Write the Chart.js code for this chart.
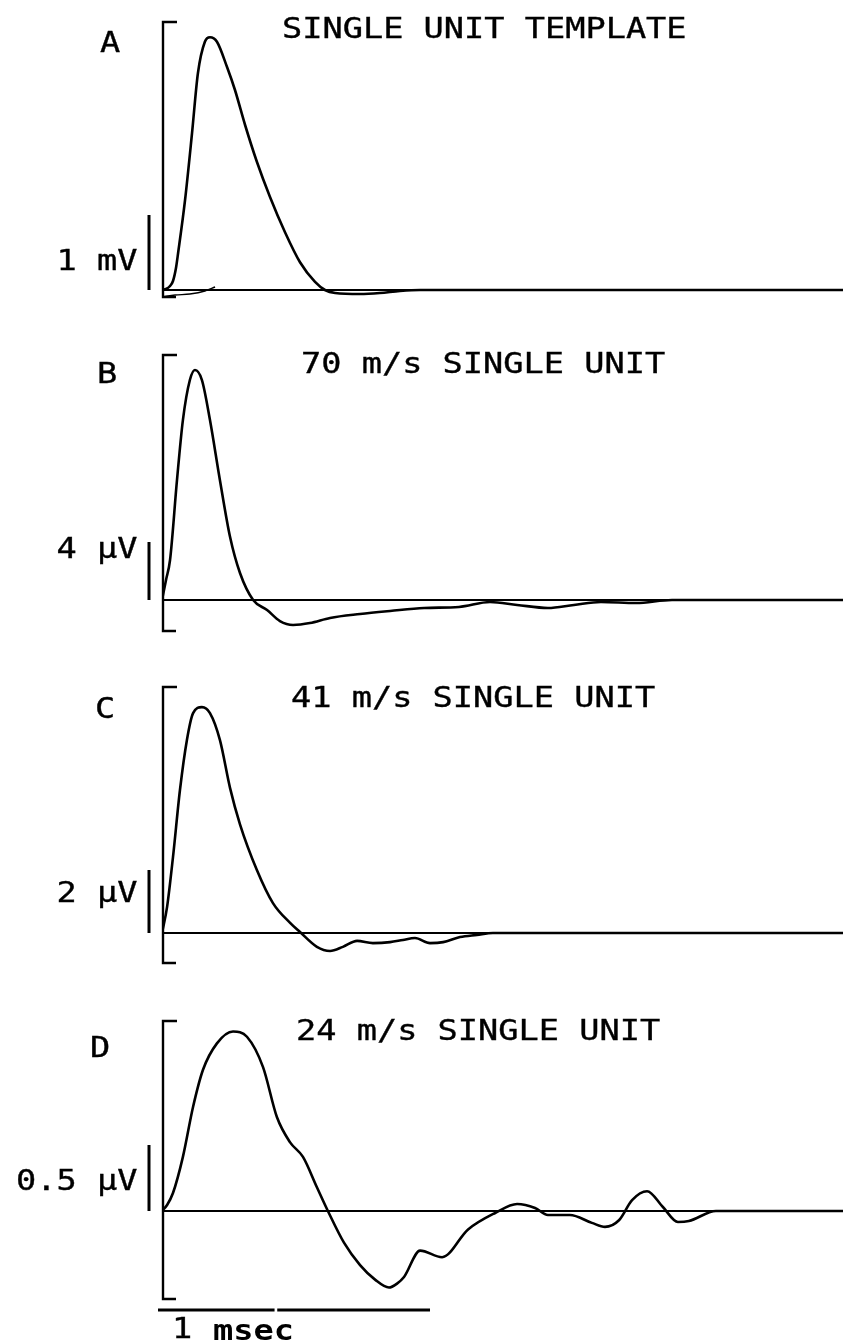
<!DOCTYPE html>
<html lang="en">
<head>
<meta charset="UTF-8">
<title>Single unit templates</title>
<script src="https://cdn.jsdelivr.net/npm/chart.js@4"></script>
<style>
  body { margin: 0; background: #fff; }
  #wrap { position: relative; width: 843px; height: 1343px; }
  #wrap canvas { position: absolute; left: 0; top: 0; }
</style>
</head>
<body>
<div id="wrap">
  <canvas id="pA" width="843" height="1343"></canvas>
  <canvas id="pB" width="843" height="1343"></canvas>
  <canvas id="pC" width="843" height="1343"></canvas>
  <canvas id="pD" width="843" height="1343"></canvas>
</div>
<script>
// time in msec, amplitude in the panel unit (A: mV, B-D: µV)
const tA = [0, 0.015, 0.03, 0.041, 0.052, 0.06, 0.086, 0.112, 0.134, 0.16, 0.179, 0.205, 0.243, 0.272, 0.31, 0.354, 0.403, 0.459, 0.515, 0.571, 0.608, 0.646, 0.739, 0.813, 0.888, 0.963, 2.541];
const vA = [0, 0.013, 0.053, 0.12, 0.29, 0.49, 1.2, 2.09, 2.89, 3.31, 3.37, 3.31, 2.97, 2.67, 2.2, 1.71, 1.24, 0.77, 0.37, 0.107, 0, -0.04, -0.053, -0.04, -0.013, 0, 0];
// faint second sweep at the start of A
const tA2 = [0, 0.049, 0.104, 0.16, 0.198];
const vA2 = [-0.093, -0.067, -0.053, -0.013, 0.04];

const tB = [0, 0.015, 0.03, 0.056, 0.078, 0.104, 0.123, 0.149, 0.179, 0.216, 0.254, 0.291, 0.34, 0.392, 0.44, 0.489, 0.552, 0.627, 0.739, 0.851, 0.978, 1.108, 1.224, 1.325, 1.44, 1.537, 1.638, 1.769, 1.903, 2.541];
const vB = [0, 1.38, 2.76, 8.28, 12.41, 15.17, 15.86, 15.17, 12.41, 8.28, 4.34, 1.86, 0, -0.69, -1.45, -1.72, -1.59, -1.24, -0.97, -0.76, -0.55, -0.48, -0.14, -0.34, -0.55, -0.34, -0.14, -0.21, 0, 0];

const tC = [0, 0.019, 0.041, 0.067, 0.093, 0.116, 0.149, 0.179, 0.216, 0.254, 0.291, 0.354, 0.414, 0.478, 0.515, 0.578, 0.627, 0.675, 0.728, 0.787, 0.851, 0.899, 0.944, 1.0, 1.049, 1.112, 1.175, 1.235, 2.541];
const vC = [0, 0.83, 2.41, 4.54, 6.13, 6.98, 7.17, 6.98, 6.13, 4.6, 3.45, 2.0, 0.95, 0.32, 0.03, -0.44, -0.57, -0.44, -0.25, -0.32, -0.29, -0.22, -0.16, -0.32, -0.29, -0.13, -0.06, 0, 0];

const tD = [0, 0.019, 0.041, 0.078, 0.116, 0.153, 0.205, 0.265, 0.317, 0.377, 0.429, 0.478, 0.526, 0.578, 0.619, 0.679, 0.739, 0.795, 0.847, 0.877, 0.903, 0.963, 1.045, 1.142, 1.243, 1.325, 1.392, 1.44, 1.522, 1.604, 1.653, 1.705, 1.754, 1.81, 1.869, 1.925, 1.966, 2.067, 2.541];
const vD = [0, 0.045, 0.136, 0.41, 0.79, 1.07, 1.27, 1.36, 1.32, 1.09, 0.71, 0.52, 0.41, 0.18, 0, -0.24, -0.41, -0.52, -0.58, -0.55, -0.5, -0.3, -0.35, -0.14, -0.015, 0.053, 0.023, -0.03, -0.03, -0.09, -0.12, -0.07, 0.083, 0.15, 0.03, -0.083, -0.076, 0, 0];

const panelLetters = ['A', 'B', 'C', 'D'];
const panelTitles = ['SINGLE UNIT TEMPLATE', '70 m/s SINGLE UNIT', '41 m/s SINGLE UNIT', '24 m/s SINGLE UNIT'];
const scaleValues = [1, 4, 2, 0.5];
const scaleLabels = ['1 mV', '4 µV', '2 µV', '0.5 µV'];
const timeBar = 1; // msec
const timeBarLabel = ['1', 'msec'];
const timeSpan = 2.541; // msec shown

// page layout, in pixels
const ink = '#000';
const left = 162;
const panels = [
  { id: 'pA', top: 10,   bottom: 310,  base: 290,  px: 75,   brTop: 22,   brBot: 297,  letter: [100, 52],  title: [282, 38],   label: 270 },
  { id: 'pB', top: 340,  bottom: 640,  base: 600,  px: 14.5, brTop: 355,  brBot: 631,  letter: [97, 383],  title: [301, 373],  label: 558 },
  { id: 'pC', top: 680,  bottom: 975,  base: 933,  px: 31.5, brTop: 687,  brBot: 963,  letter: [95, 718],  title: [291, 707],  label: 902 },
  { id: 'pD', top: 1010, bottom: 1320, base: 1211, px: 132,  brTop: 1021, brBot: 1299, letter: [90, 1057], title: [296, 1040], label: 1190 }
];

// plotter-like lettering: a mono font stretched sideways
const fontPx = 28, stretch = 1.2;
const advance = fontPx * 0.602 * stretch;

function plotText(ctx, str, x, y, bold) {
  ctx.save();
  ctx.font = (bold ? 'bold ' : '') + fontPx + 'px "DejaVu Sans Mono"';
  ctx.textBaseline = 'alphabetic';
  ctx.textAlign = 'left';
  ctx.scale(stretch, 1);
  ctx.fillText(str, x / stretch, y);
  if (!bold) {
    ctx.lineWidth = 0.35;
    ctx.strokeText(str, x / stretch, y);
  }
  ctx.restore();
}

const deco = {
  id: 'deco',
  afterDatasetsDraw(chart, args, o) {
    const ctx = chart.ctx, x = chart.scales.x, y = chart.scales.y;
    const P = panels[o.i];
    ctx.save();
    ctx.strokeStyle = ink;
    ctx.fillStyle = ink;

    // left bracket
    const bx = x.getPixelForValue(0) + 1;
    ctx.lineWidth = 2.4;
    ctx.beginPath();
    ctx.moveTo(bx + 14, P.brTop);
    ctx.lineTo(bx, P.brTop);
    ctx.lineTo(bx, P.brBot);
    ctx.lineTo(bx + 13, P.brBot);
    ctx.stroke();

    // amplitude calibration bar
    ctx.lineWidth = 3;
    ctx.beginPath();
    ctx.moveTo(149, y.getPixelForValue(0));
    ctx.lineTo(149, y.getPixelForValue(scaleValues[o.i]));
    ctx.stroke();

    plotText(ctx, panelLetters[o.i], P.letter[0], P.letter[1]);
    plotText(ctx, panelTitles[o.i], P.title[0], P.title[1]);
    const lab = scaleLabels[o.i];
    plotText(ctx, lab, 97 - (lab.length - 2) * advance, P.label);

    // time calibration bar under D
    if (o.i === 3) {
      const yb = 1310;
      ctx.lineWidth = 3;
      ctx.beginPath();
      ctx.moveTo(x.getPixelForValue(0) - 4, yb);
      ctx.lineTo(x.getPixelForValue(0.42 * timeBar), yb);
      ctx.moveTo(x.getPixelForValue(0.43 * timeBar), yb);
      ctx.lineTo(x.getPixelForValue(timeBar), yb);
      ctx.stroke();
      plotText(ctx, timeBarLabel[0], 172, 1338);
      plotText(ctx, timeBarLabel[1], 213, 1340, true);
    }
    ctx.restore();
  }
};

function pts(t, v) {
  return t.map((tt, k) => ({ x: tt, y: v[k] }));
}

const traces = [
  [pts(tA, vA), pts(tA2, vA2)],
  [pts(tB, vB)],
  [pts(tC, vC)],
  [pts(tD, vD)]
];

panels.forEach((P, i) => {
  const ds = [{
    data: [{ x: 0, y: 0 }, { x: timeSpan, y: 0 }],
    borderColor: ink, borderWidth: 2.2, pointRadius: 0
  }];
  traces[i].forEach((d, k) => ds.push({
    data: d,
    borderColor: ink,
    borderWidth: k === 0 ? 2.6 : 1.4,
    pointRadius: 0,
    cubicInterpolationMode: 'monotone'
  }));

  new Chart(document.getElementById(P.id), {
    type: 'line',
    data: { datasets: ds },
    options: {
      responsive: false,
      animation: false,
      layout: { padding: { left: left, right: 0, top: P.top, bottom: 1343 - P.bottom } },
      plugins: { legend: { display: false }, tooltip: { enabled: false }, deco: { i: i } },
      scales: {
        x: { type: 'linear', display: false, min: 0, max: timeSpan },
        y: { display: false, min: -(P.bottom - P.base) / P.px, max: (P.base - P.top) / P.px }
      }
    },
    plugins: [deco]
  });
});
</script>
</body>
</html>
